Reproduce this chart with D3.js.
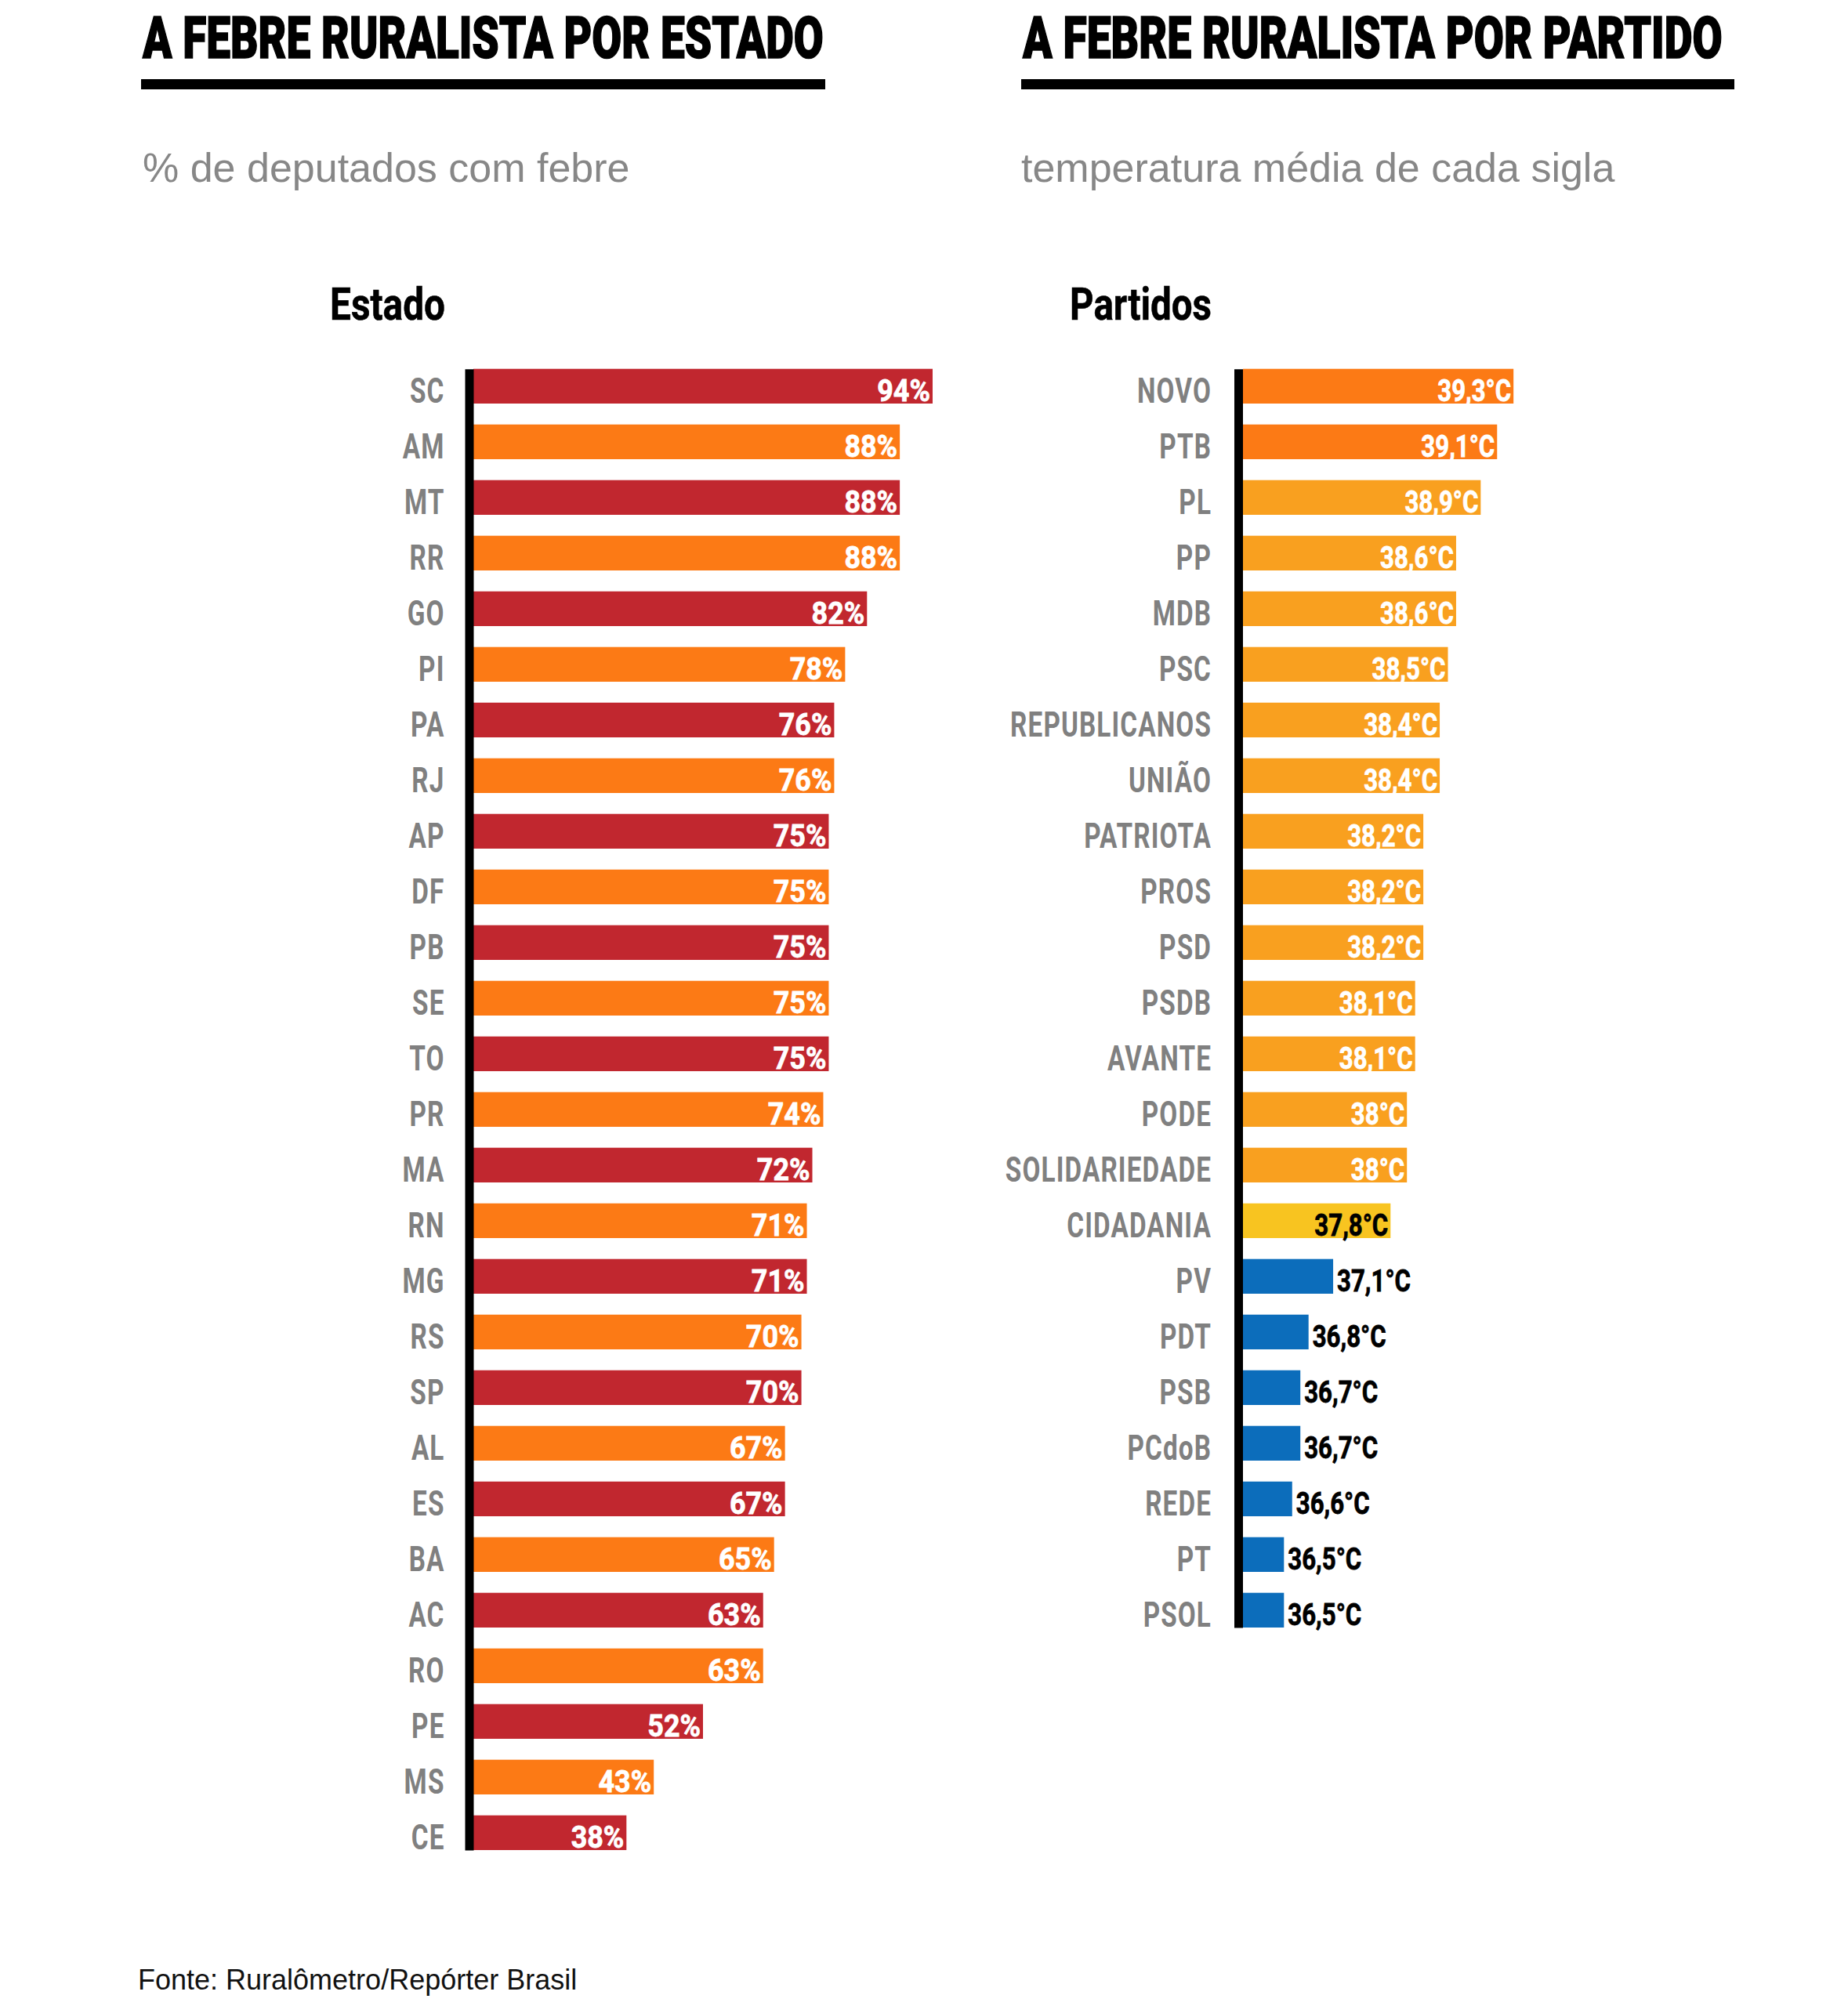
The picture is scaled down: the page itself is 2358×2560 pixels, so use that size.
<!DOCTYPE html>
<html>
<head>
<meta charset="utf-8">
<script src="https://cdn.jsdelivr.net/npm/d3@7"></script>
<style>body{margin:0;background:#fff}</style>
</head>
<body>
<script>
// ---------- DATA ----------
const titles = ["A FEBRE RURALISTA POR ESTADO", "A FEBRE RURALISTA POR PARTIDO"];
const subtitles = ["% de deputados com febre", "temperatura média de cada sigla"];
const headers = ["Estado", "Partidos"];
const sourceText = "Fonte: Ruralômetro/Repórter Brasil";

const states = ["SC","AM","MT","RR","GO","PI","PA","RJ","AP","DF","PB","SE","TO","PR","MA","RN","MG","RS","SP","AL","ES","BA","AC","RO","PE","MS","CE"];
const statePct = [94,88,88,88,82,78,76,76,75,75,75,75,75,74,72,71,71,70,70,67,67,65,63,63,52,43,38];

const parties = ["NOVO","PTB","PL","PP","MDB","PSC","REPUBLICANOS","UNIÃO","PATRIOTA","PROS","PSD","PSDB","AVANTE","PODE","SOLIDARIEDADE","CIDADANIA","PV","PDT","PSB","PCdoB","REDE","PT","PSOL"];
const partyTemp = [39.3,39.1,38.9,38.6,38.6,38.5,38.4,38.4,38.2,38.2,38.2,38.1,38.1,38.0,38.0,37.8,37.1,36.8,36.7,36.7,36.6,36.5,36.5];

// ---------- LAYOUT / STYLE ----------
const W = 2358, H = 2560;
const COND = "Roboto, 'Liberation Sans', Arial, sans-serif";
const SANS = "'Liberation Sans', Arial, sans-serif";
const GRAY = "#808080";
const RED = "#C1272F", ORANGE = "#FC7A15";
const AMBER = "#F9A01F", YELLOW = "#F8C420", BLUE = "#0C6DBB";
const top0 = 470.7, step = 71, padIn = 0.376;

const svg = d3.select("body").append("svg").attr("width", W).attr("height", H);
svg.append("rect").attr("width", W).attr("height", H).attr("fill", "#fff");

// text fitted to a given width by horizontal scaling
function fitText(txt, x, y, w, size, weight, anchor, strokeW) {
  const t = svg.append("text")
    .attr("transform", `translate(${x},${y})`)
    .attr("text-anchor", anchor)
    .attr("font-family", COND).attr("font-weight", weight).attr("font-size", size)
    .attr("fill", "#000").attr("stroke", "#000").attr("stroke-width", strokeW)
    .text(txt);
  const len = t.node().getComputedTextLength();
  t.attr("transform", `translate(${x},${y}) scale(${w / len},1)`);
  return t;
}

function heading(i, x, w, lineX, lineW, subX) {
  fitText(titles[i], x, 74, w, 74, 900, "start", 1.6);
  svg.append("rect").attr("x", lineX).attr("y", 101).attr("width", lineW).attr("height", 13).attr("fill", "#000");
  svg.append("text")
    .attr("x", subX).attr("y", 232)
    .attr("font-family", SANS).attr("font-size", 52).attr("fill", "#878787")
    .text(subtitles[i]);
}
heading(0, 182, 869, 180, 873, 182);
heading(1, 1305, 893, 1303, 910, 1303);

fitText(headers[0], 568, 408, 147, 58, 700, "end", 0.6);
fitText(headers[1], 1546, 408, 181, 58, 700, "end", 0.6);

function bandScale(domain) {
  return d3.scaleBand().domain(domain)
    .range([top0, top0 + step * (domain.length - padIn)])
    .paddingInner(padIn).paddingOuter(0);
}

function drawAxis(yScale, axisX, labelOffset) {
  const g = svg.append("g").attr("transform", `translate(${axisX},0)`)
    .call(d3.axisLeft(yScale).tickSize(0).tickSizeOuter(0));
  g.select(".domain").attr("stroke", "#000").attr("stroke-width", 11);
  g.selectAll(".tick text")
    .attr("x", null).attr("dy", null).attr("y", null)
    .attr("transform", `translate(${labelOffset},${yScale.bandwidth() / 2 - 1}) scale(0.74,1)`)
    .attr("text-anchor", "end")
    .attr("letter-spacing", 1.5)
    .attr("font-family", COND).attr("font-weight", 700).attr("font-size", 45)
    .attr("fill", GRAY);
  return g;
}

// ---------- LEFT: states ----------
const sData = states.map((s, i) => ({k: s, v: statePct[i], i}));
const yS = bandScale(states);
const xS = d3.scaleLinear().domain([10, 100]).range([604, 604 + 90 * 6.976]);

svg.append("g").selectAll("rect").data(sData).join("rect")
  .attr("x", xS(10)).attr("y", d => yS(d.k))
  .attr("width", d => xS(d.v) - xS(10)).attr("height", yS.bandwidth())
  .attr("fill", d => d.i % 2 === 0 ? RED : ORANGE);

svg.append("g").selectAll("text").data(sData).join("text")
  .attr("transform", d => `translate(${xS(d.v) - 3},${yS(d.k) + yS.bandwidth() - 3}) scale(0.92,1)`)
  .attr("text-anchor", "end")
  .attr("font-family", COND).attr("font-weight", 700).attr("font-size", 39)
  .attr("fill", "#fff").attr("stroke", "#fff").attr("stroke-width", 0.8)
  .text(d => d.v + "%");

drawAxis(yS, 598.5, -31);

// ---------- RIGHT: parties ----------
const ptBR = d3.formatLocale({decimal: ",", thousands: ".", grouping: [3], currency: ["R$", ""]});
const fmt = ptBR.format(".1~f");
const pData = parties.map((p, i) => ({k: p, v: partyTemp[i]}));
const yP = bandScale(parties);
const xP = d3.scaleLinear().domain([36, 40]).range([1586, 1586 + 4 * 104.6]);
const colorP = d3.scaleThreshold().domain([37.5, 37.9, 39.0]).range([BLUE, YELLOW, AMBER, ORANGE]);

svg.append("g").selectAll("rect").data(pData).join("rect")
  .attr("x", xP(36)).attr("y", d => yP(d.k))
  .attr("width", d => xP(d.v) - xP(36)).attr("height", yP.bandwidth())
  .attr("fill", d => colorP(d.v));

svg.append("g").selectAll("text").data(pData).join("text")
  .attr("transform", d => {
    const inside = d.v >= 37.5;
    const x = inside ? xP(d.v) - 3 : xP(d.v) + 5;
    return `translate(${x},${yP(d.k) + yP.bandwidth() - 3}) scale(0.8,1)`;
  })
  .attr("text-anchor", d => d.v >= 37.5 ? "end" : "start")
  .attr("font-family", COND).attr("font-weight", 700).attr("font-size", 39)
  .attr("fill", d => d.v >= 37.9 ? "#fff" : "#000")
  .attr("stroke", d => d.v >= 37.9 ? "#fff" : "#000").attr("stroke-width", 0.8)
  .text(d => fmt(d.v) + "°C");

drawAxis(yP, 1580, -34);

// ---------- SOURCE ----------
svg.append("text")
  .attr("x", 176).attr("y", 2539)
  .attr("font-family", SANS).attr("font-size", 36).attr("fill", "#111")
  .text(sourceText);
</script>
</body>
</html>
